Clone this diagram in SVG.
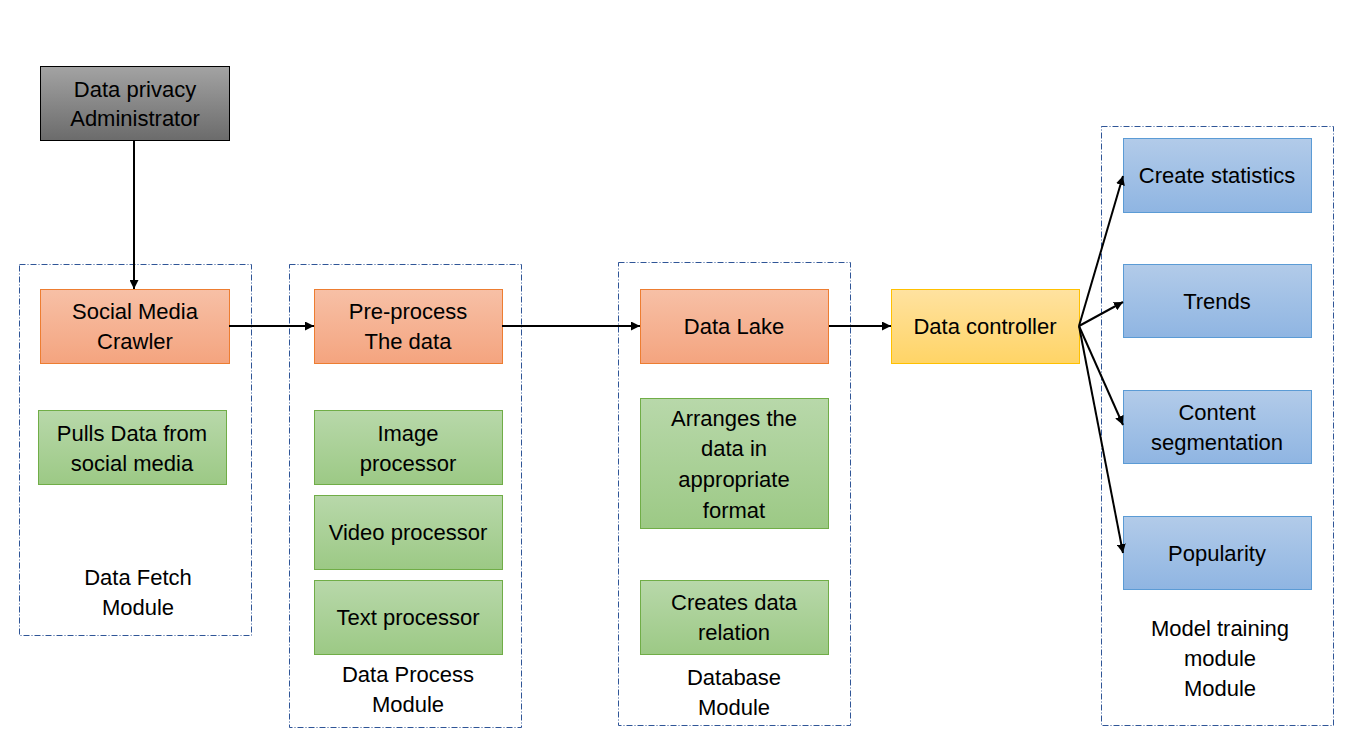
<svg xmlns="http://www.w3.org/2000/svg" width="1352" height="741" viewBox="0 0 1352 741">
<defs>
<linearGradient id="gGray" x1="0" y1="0" x2="0" y2="1"><stop offset="0" stop-color="#a3a3a3"/><stop offset="1" stop-color="#6b6b6b"/></linearGradient>
<linearGradient id="gOrange" x1="0" y1="0" x2="0" y2="1"><stop offset="0" stop-color="#f7c0a6"/><stop offset="1" stop-color="#f4a47f"/></linearGradient>
<linearGradient id="gGreen" x1="0" y1="0" x2="0" y2="1"><stop offset="0" stop-color="#b8d8aa"/><stop offset="1" stop-color="#9cc985"/></linearGradient>
<linearGradient id="gYellow" x1="0" y1="0" x2="0" y2="1"><stop offset="0" stop-color="#ffe2a0"/><stop offset="1" stop-color="#ffd466"/></linearGradient>
<linearGradient id="gBlue" x1="0" y1="0" x2="0" y2="1"><stop offset="0" stop-color="#b2cbe9"/><stop offset="1" stop-color="#8fb5e2"/></linearGradient>
<marker id="arr" viewBox="0 0 10 10" refX="10" refY="5" markerWidth="9" markerHeight="9" markerUnits="userSpaceOnUse" orient="auto"><path d="M0,0 L10,5 L0,10 z" fill="#000"/></marker>
</defs>
<style>
text{font-family:"Liberation Sans",Arial,sans-serif;font-size:22px;fill:#000;text-anchor:middle}
.mod{fill:none;stroke:#2f5597;stroke-width:1;stroke-dasharray:6 2 1 2}
.gray{fill:url(#gGray);stroke:#000;stroke-width:1}
.or{fill:url(#gOrange);stroke:#ed7d31;stroke-width:1}
.gr{fill:url(#gGreen);stroke:#70ad47;stroke-width:1}
.ye{fill:url(#gYellow);stroke:#ffc000;stroke-width:1}
.bl{fill:url(#gBlue);stroke:#5b9bd5;stroke-width:1}
.c{fill:none;stroke:#000;stroke-width:2;marker-end:url(#arr)}
</style>
<rect width="1352" height="741" fill="#fff"/>
<g id="modules">
<g id="mod-fetch"><rect class="mod" x="19.5" y="264.5" width="232" height="371"/><text x="138" y="585">Data Fetch</text><text x="138" y="615">Module</text></g>
<g id="mod-process"><rect class="mod" x="289.5" y="264.5" width="232" height="463"/><text x="408" y="682">Data Process</text><text x="408" y="712">Module</text></g>
<g id="mod-db"><rect class="mod" x="618.5" y="262.5" width="232" height="463"/><text x="734" y="685">Database</text><text x="734" y="715">Module</text></g>
<g id="mod-model"><rect class="mod" x="1101.5" y="126.5" width="232" height="599"/><text x="1220" y="636">Model training</text><text x="1220" y="666">module</text><text x="1220" y="696">Module</text></g>
</g>
<g id="n-admin"><rect class="gray" x="40.5" y="66.5" width="189" height="74"/><text x="135" y="97">Data privacy</text><text x="135" y="126">Administrator</text></g>
<g id="n-crawler"><rect class="or" x="40.5" y="289.5" width="189" height="74"/><text x="135" y="319">Social Media</text><text x="135" y="349">Crawler</text></g>
<g id="n-pulls"><rect class="gr" x="38.5" y="410.5" width="188" height="74"/><text x="132" y="441">Pulls Data from</text><text x="132" y="471">social media</text></g>
<g id="n-preprocess"><rect class="or" x="314.5" y="289.5" width="188" height="74"/><text x="408" y="319">Pre-process</text><text x="408" y="349">The data</text></g>
<g id="n-image"><rect class="gr" x="314.5" y="410.5" width="188" height="74"/><text x="408" y="441">Image</text><text x="408" y="471">processor</text></g>
<g id="n-video"><rect class="gr" x="314.5" y="495.5" width="188" height="74"/><text x="408" y="540">Video processor</text></g>
<g id="n-text"><rect class="gr" x="314.5" y="580.5" width="188" height="74"/><text x="408" y="625">Text processor</text></g>
<g id="n-lake"><rect class="or" x="640.5" y="289.5" width="188" height="74"/><text x="734" y="334">Data Lake</text></g>
<g id="n-arranges"><rect class="gr" x="640.5" y="398.5" width="188" height="130"/><text x="734" y="426">Arranges the</text><text x="734" y="456">data in</text><text x="734" y="487">appropriate</text><text x="734" y="518">format</text></g>
<g id="n-relation"><rect class="gr" x="640.5" y="580.5" width="188" height="74"/><text x="734" y="610">Creates data</text><text x="734" y="640">relation</text></g>
<g id="n-controller"><rect class="ye" x="891.5" y="289.5" width="188" height="74"/><text x="985" y="334">Data controller</text></g>
<g id="n-stats"><rect class="bl" x="1123.5" y="138.5" width="188" height="74"/><text x="1217" y="183">Create statistics</text></g>
<g id="n-trends"><rect class="bl" x="1123.5" y="264.5" width="188" height="73"/><text x="1217" y="309">Trends</text></g>
<g id="n-content"><rect class="bl" x="1123.5" y="390.5" width="188" height="73"/><text x="1217" y="420">Content</text><text x="1217" y="450">segmentation</text></g>
<g id="n-pop"><rect class="bl" x="1123.5" y="516.5" width="188" height="73"/><text x="1217" y="561">Popularity</text></g>
<g id="connectors">
<line class="c" x1="134" y1="141" x2="134" y2="289"/>
<line class="c" x1="229" y1="326" x2="314" y2="326"/>
<line class="c" x1="502" y1="326" x2="640" y2="326"/>
<line class="c" x1="829" y1="326" x2="891" y2="326"/>
<line class="c" x1="1079" y1="326" x2="1123" y2="176"/>
<line class="c" x1="1079" y1="326" x2="1123" y2="302"/>
<line class="c" x1="1079" y1="326" x2="1123" y2="425"/>
<line class="c" x1="1079" y1="326" x2="1123" y2="553"/>
</g>
</svg>
